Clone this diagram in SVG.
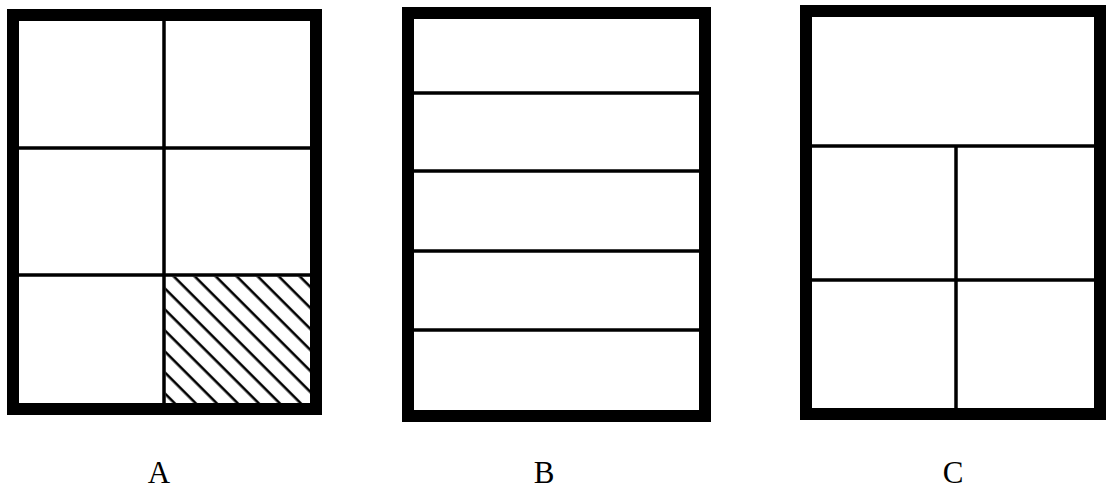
<svg xmlns="http://www.w3.org/2000/svg" width="1108" height="488" viewBox="0 0 1108 488">
  <style>
    .frame { fill: #fff; stroke: #000; stroke-width: 12; }
    .div { stroke: #000; stroke-width: 3.5; fill: none; }
    .label { font-family: "Liberation Serif", "Times New Roman", serif; font-size: 31px; fill: #000; text-anchor: middle; }
  </style>
  <defs>
    <pattern id="hatch" patternUnits="userSpaceOnUse" width="20" height="14.85" patternTransform="rotate(45)">
      <line x1="-2" y1="13.1" x2="22" y2="13.1" stroke="#000" stroke-width="2.6"/>
    </pattern>
  </defs>
  <rect width="1108" height="488" fill="#fff"/>

  <g id="panelA">
    <rect class="frame" x="13" y="15" width="303" height="394"/>
    <rect x="165.5" y="276.5" width="144.5" height="127" fill="url(#hatch)"/>
    <line class="div" x1="19" y1="148" x2="310" y2="148"/>
    <line class="div" x1="19" y1="275" x2="310" y2="275"/>
    <line class="div" x1="164" y1="21" x2="164" y2="403"/>
    <text class="label" x="159" y="483">A</text>
  </g>

  <g id="panelB">
    <rect class="frame" x="408" y="13" width="297" height="403"/>
    <line class="div" x1="414" y1="93" x2="699" y2="93"/>
    <line class="div" x1="414" y1="171" x2="699" y2="171"/>
    <line class="div" x1="414" y1="251" x2="699" y2="251"/>
    <line class="div" x1="414" y1="330" x2="699" y2="330"/>
    <text class="label" x="544" y="483">B</text>
  </g>

  <g id="panelC">
    <rect class="frame" x="806" y="11" width="294" height="403"/>
    <line class="div" x1="812" y1="146" x2="1094" y2="146"/>
    <line class="div" x1="812" y1="280" x2="1094" y2="280"/>
    <line class="div" x1="956" y1="146" x2="956" y2="408"/>
    <text class="label" x="953" y="483">C</text>
  </g>

  <g id="connectors"></g>
</svg>
